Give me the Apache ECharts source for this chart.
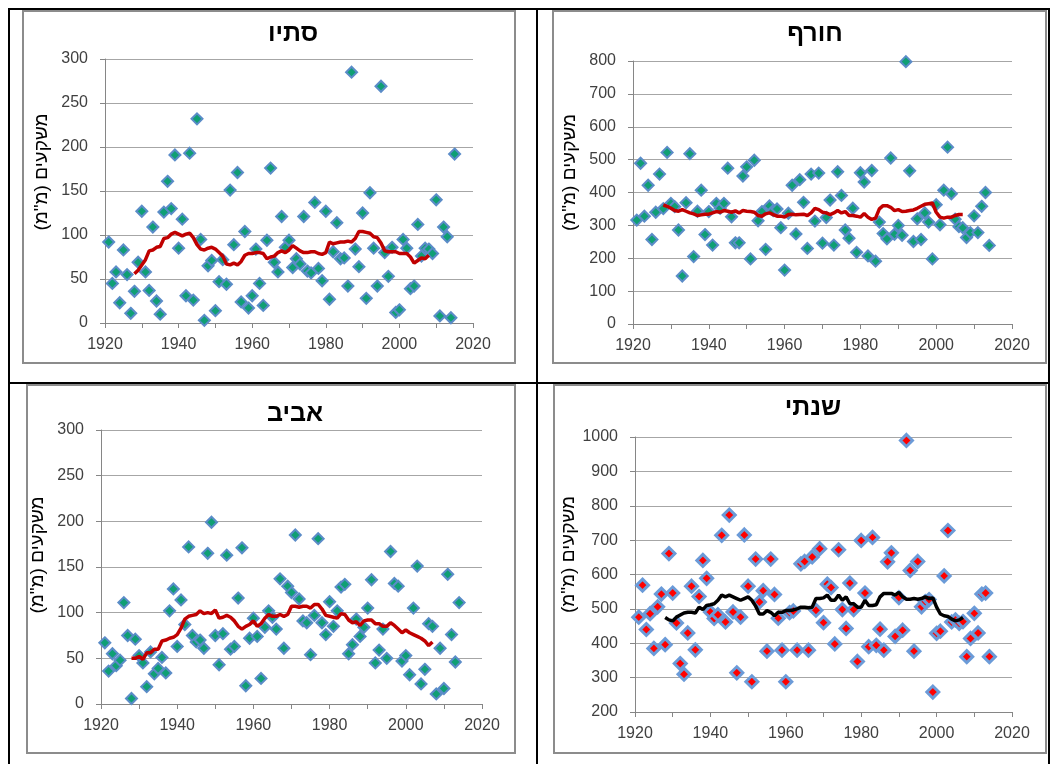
<!DOCTYPE html>
<html><head><meta charset="utf-8">
<script src="https://cdn.jsdelivr.net/npm/echarts@6/dist/echarts.min.js"></script>
<style>html,body{margin:0;padding:0;background:#fff}#c{width:1051px;height:764px}</style>
</head><body><div id="c"></div><script>
// ---------- DATA ----------
const titles = ['סתיו', 'חורף', 'אביב', 'שנתי'];
const yAxisName = 'משקעים (מ"מ)';
const xTicks = [1920, 1940, 1960, 1980, 2000, 2020];

const years = [1921,1922,1923,1924,1925,1926,1927,1928,1929,1930,
  1931,1932,1933,1934,1935,1936,1937,1938,1939,1940,
  1941,1942,1943,1944,1945,1946,1947,1948,1949,1950,
  1951,1952,1953,1954,1955,1956,1957,1958,1959,1960,
  1961,1962,1963,1964,1965,1966,1967,1968,1969,1970,
  1971,1972,1973,1974,1975,1976,1977,1978,1979,1980,
  1981,1982,1983,1984,1985,1986,1987,1988,1989,1990,
  1991,1992,1993,1994,1995,1996,1997,1998,1999,2000,
  2001,2002,2003,2004,2005,2006,2007,2008,2009,2010,
  2011,2012,2013,2014,2015];

const maYears = [1928,1929,1930,1931,1932,1933,1934,1935,1936,1937,
  1938,1939,1940,1941,1942,1943,1944,1945,1946,1947,
  1948,1949,1950,1951,1952,1953,1954,1955,1956,1957,
  1958,1959,1960,1961,1962,1963,1964,1965,1966,1967,
  1968,1969,1970,1971,1972,1973,1974,1975,1976,1977,
  1978,1979,1980,1981,1982,1983,1984,1985,1986,1987,
  1988,1989,1990,1991,1992,1993,1994,1995,1996,1997,
  1998,1999,2000,2001,2002,2003,2004,2005,2006,2007,
  2008];

// סתיו (autumn)
const autumn = [92,45,58,23,83,55,11,36,69,127,
  58,37,109,25,10,126,161,130,191,85,
  118,31,193,26,232,95,3,65,71,14,
  47,72,44,151,89,171,24,104,17,31,
  84,45,20,94,176,69,58,121,86,94,
  63,73,67,121,59,57,137,62,48,127,
  27,81,114,73,74,42,285,84,64,125,
  28,148,85,42,269,80,53,86,12,15,
  95,85,39,42,112,76,85,84,79,140,
  8,109,98,6,192];
const autumnMA = [56,60,66,72,82,83,86,87,96,97,
  101,103,101,99,101,102,97,89,84,83,
  85,86,84,80,76,67,66,68,66,70,
  77,79,79,80,80,79,73,75,76,80,
  82,80,83,88,85,82,80,80,81,81,
  79,78,80,92,90,91,92,92,93,92,
  96,104,104,103,102,98,97,91,82,81,
  81,81,79,79,79,75,68,71,74,73,
  77];

// חורף (winter)
const winter = [316,489,328,422,257,340,456,351,522,367,
  357,286,146,369,518,205,343,407,272,342,
  240,367,352,367,474,326,247,247,450,478,
  198,498,314,342,227,359,345,350,293,164,
  337,422,274,439,370,230,456,313,459,246,
  324,377,240,463,391,286,261,352,218,460,
  432,207,467,191,310,275,259,505,273,300,
  270,798,466,251,320,257,338,310,198,363,
  302,407,538,396,319,296,293,263,278,329,
  278,358,400,239];
const winterMA = [362,358,352,345,343,348,343,338,335,330,
  332,334,334,338,342,340,345,343,340,344,
  338,345,343,342,340,330,328,335,338,333,
  328,328,325,333,334,332,333,334,330,338,
  352,348,340,338,333,338,345,338,342,330,
  330,328,325,336,325,318,322,350,360,360,
  355,345,348,342,343,345,347,352,358,364,
  366,368,340,325,322,325,325,330,333,333];

// אביב (spring)
const spring = [67,36,55,42,48,111,75,6,71,53,
  45,19,57,33,39,51,34,102,126,63,
  114,87,172,75,68,70,61,165,199,75,
  43,77,163,60,63,116,171,20,72,94,
  74,28,84,102,95,82,137,61,129,122,
  185,115,91,89,54,97,181,89,76,112,
  85,102,128,131,55,65,93,74,84,105,
  136,45,59,82,50,167,132,129,47,53,
  32,105,151,22,38,88,85,11,61,17,
  142,76,46,111];
const springMA = [50,50,52,49,56,56,60,60,69,70,
  72,73,76,83,93,96,97,98,102,99,
  100,99,103,94,95,97,95,91,85,82,
  85,87,91,85,88,94,98,96,96,98,
  96,98,107,107,106,107,107,105,109,109,
  104,97,96,95,94,99,98,92,89,90,
  86,91,92,92,88,88,85,85,89,86,
  82,78,81,78,76,74,72,69,64,68];

// שנתי (annual)
const annual = [476,569,440,486,385,506,543,396,661,546,
  459,341,310,430,566,381,536,641,589,491,
  472,483,714,462,773,491,314,476,715,566,
  288,645,520,553,377,645,542,473,380,288,
  489,494,380,631,638,380,651,496,675,460,
  572,562,398,672,498,443,575,498,347,699,
  546,390,708,394,441,380,637,663,420,533,
  438,990,612,377,638,506,521,527,258,429,
  435,596,728,462,468,458,463,361,414,487,
  430,543,546,361];
const annualMA = [475,468,465,476,482,488,490,490,488,505,
  498,510,512,515,525,540,535,540,535,530,
  525,530,535,525,508,485,485,495,490,480,
  490,490,495,495,497,500,505,505,503,505,
  530,530,532,540,525,525,540,525,535,515,
  515,505,505,525,510,510,512,535,545,545,
  545,540,548,535,528,528,530,528,530,535,
  530,532,505,485,480,478,470,465,468,475];

const yMins = [0, 0, 0, 200];
const yMaxs = [300, 800, 300, 1000];
const yIntervals = [50, 100, 50, 100];

// ---------- LAYOUT ----------
const FONT = 'Liberation Sans';
const RLM = '\u200F';
const values = [autumn, winter, spring, annual];
const mas = [autumnMA, winterMA, springMA, annualMA];

const panels = [
  { grid: {left:105, top:59, width:368, height:264}, title:[288,17], box:[23,11,492,352], namePad:38 },
  { grid: {left:633, top:61, width:379, height:263}, title:[810,17], box:[553,11,493,352], namePad:40 },
  { grid: {left:101, top:430, width:381, height:274}, title:[290,397], box:[27,385,488,368], namePad:24 },
  { grid: {left:635, top:437, width:377, height:275}, title:[808,391], box:[554,385,492,368], namePad:40 }
];

function pairs(xs, ys) { return ys.map((v, i) => [xs[i], v]); }

const option = {
  backgroundColor: '#fff',
  animation: false,
  title: panels.map((p, i) => ({
    text: titles[i], left: p.title[0], top: p.title[1], textAlign: 'center',
    textStyle: { fontFamily: FONT, fontWeight: 'bold', fontSize: 25, color: '#000' }
  })),
  grid: panels.map(p => Object.assign({ containLabel: false }, p.grid)),
  xAxis: panels.map((p, i) => ({
    type: 'value', gridIndex: i, min: 1920, max: 2020, interval: 10,
    axisLine: { show: true, lineStyle: { color: '#868686', width: 1 } },
    axisTick: { show: true, length: 5, lineStyle: { color: '#868686' } },
    splitLine: { show: false },
    axisLabel: {
      margin: 14, fontFamily: FONT, fontSize: 16, color: '#404040',
      formatter: v => (xTicks.indexOf(v) >= 0 ? String(v) : '')
    }
  })),
  yAxis: panels.map((p, i) => ({
    type: 'value', gridIndex: i, min: yMins[i], max: yMaxs[i], interval: yIntervals[i],
    name: RLM + yAxisName + RLM, nameLocation: 'middle', nameRotate: 90, nameGap: 54,
    nameTextStyle: { fontFamily: FONT, fontSize: 19, color: '#000', padding: [0, 0, 0, p.namePad] },
    axisLine: { show: true, lineStyle: { color: '#868686', width: 1 } },
    axisTick: { show: true, length: 5, lineStyle: { color: '#868686' } },
    splitLine: { show: true, lineStyle: { color: '#a6a6a6', width: 1.2 } },
    axisLabel: { margin: 17, fontFamily: FONT, fontSize: 16, color: '#404040', formatter: v => String(v) }
  })),
  series: [].concat(
    panels.map((p, i) => ({
      type: 'scatter', xAxisIndex: i, yAxisIndex: i, symbol: 'diamond',
      symbolSize: i === 3 ? 12 : 11,
      itemStyle: i === 3
        ? { color: '#ff0000', borderColor: '#6b9bd8', borderWidth: 3, opacity: 1 }
        : { color: '#0f9f74', borderColor: '#5b8cc8', borderWidth: 2, opacity: 1 },
      data: pairs(years, values[i]), z: 2
    })),
    panels.map((p, i) => ({
      type: 'line', xAxisIndex: i, yAxisIndex: i, showSymbol: false, symbol: 'none',
      lineStyle: { color: i === 3 ? '#000000' : '#c00000', width: 3.5 },
      data: pairs(maYears, mas[i]), z: 3
    }))
  ),
  graphic: [].concat(
    panels.map(p => ({
      type: 'rect', shape: { x: p.box[0], y: p.box[1], width: p.box[2], height: p.box[3] },
      style: { fill: 'none', stroke: '#8c8c8c', lineWidth: 2 }, silent: true
    })),
    [
      { type: 'line', shape: { x1: 8, y1: 9, x2: 1050, y2: 9 }, style: { stroke: '#000', lineWidth: 2 } },
      { type: 'line', shape: { x1: 9, y1: 8, x2: 9, y2: 764 }, style: { stroke: '#000', lineWidth: 2 } },
      { type: 'line', shape: { x1: 537, y1: 8, x2: 537, y2: 764 }, style: { stroke: '#000', lineWidth: 2 } },
      { type: 'line', shape: { x1: 1049, y1: 8, x2: 1049, y2: 764 }, style: { stroke: '#000', lineWidth: 2 } },
      { type: 'line', shape: { x1: 8, y1: 383, x2: 1050, y2: 383 }, style: { stroke: '#000', lineWidth: 2 } }
    ]
  )
};

const chart = echarts.init(document.getElementById('c'), null, { renderer: 'canvas' });
chart.setOption(option);
</script></body></html>
